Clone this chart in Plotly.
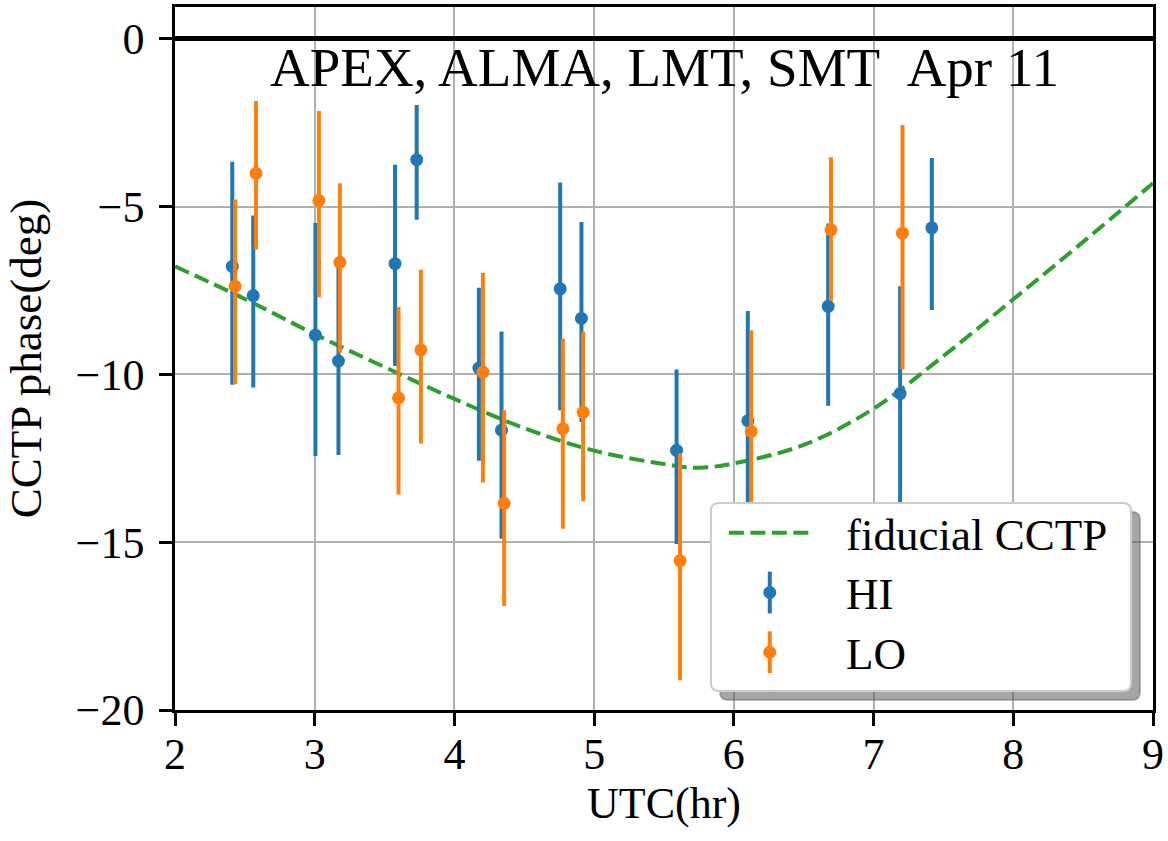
import plotly.graph_objects as go

# ---------------- data ----------------
hi_x = [2.41, 2.56, 3.005, 3.17, 3.575, 3.73, 4.175, 4.337, 4.757, 4.909, 5.59, 6.10, 6.675, 7.19, 7.417]
hi_y = [-6.78, -7.65, -8.83, -9.60, -6.70, -3.60, -9.81, -11.66, -7.45, -8.33, -12.26, -11.38, -7.97, -10.57, -5.63]
hi_err_up = [3.12, 2.39, 3.34, 2.82, 2.95, 1.63, 2.39, 2.94, 3.17, 2.87, 2.41, 3.27, 2.47, 3.20, 2.08]
hi_err_down = [3.53, 2.74, 3.60, 2.80, 3.05, 1.79, 2.76, 3.24, 3.62, 3.09, 2.79, 3.60, 2.96, 3.60, 2.45]

lo_x = [2.43, 2.58, 3.03, 3.18, 3.60, 3.76, 4.204, 4.356, 4.776, 4.921, 5.615, 6.124, 6.695, 7.207]
lo_y = [-7.37, -4.01, -4.82, -6.66, -10.70, -9.27, -9.93, -13.84, -11.62, -11.13, -15.55, -11.70, -5.69, -5.79]
lo_err_up = [2.58, 2.16, 2.67, 2.36, 2.71, 2.39, 2.95, 2.77, 2.69, 2.41, 3.20, 3.02, 2.16, 3.22]
lo_err_down = [2.92, 2.27, 2.88, 2.69, 2.88, 2.79, 3.29, 3.06, 2.98, 2.65, 3.56, 3.40, 2.12, 4.06]

fid_x = [2.0, 2.5, 3.0, 3.5, 4.0, 4.5, 5.0, 5.5, 5.75, 6.0, 6.5, 7.0, 7.5, 8.0, 8.5, 9.0]
fid_y = [-6.78, -7.75, -8.80, -9.78, -10.73, -11.60, -12.27, -12.67, -12.78, -12.65, -12.10, -11.02, -9.45, -7.76, -6.05, -4.30]

x_ticks = [2, 3, 4, 5, 6, 7, 8, 9]
y_ticks = [-20, -15, -10, -5, 0]

title_text = "APEX, ALMA, LMT, SMT \u00a0Apr 11"
legend_labels = ["fiducial CCTP", "HI", "LO"]

# ---------------- style ----------------
BLUE = "#1f77b4"
ORANGE = "#ff7f0e"
GREEN = "#2ca02c"
FONT = "Liberation Serif"
W, H = 1168, 841
ML, MR, MT, MB = 175, 13, 4, 131
PW, PH = W - ML - MR, H - MT - MB


def px(xp):
    return (xp - ML) / PW


def py(yp):
    return (H - MB - yp) / PH


fig = go.Figure()

fig.add_trace(go.Scatter(
    x=fid_x, y=fid_y, mode="lines",
    line=dict(color=GREEN, width=4, dash="15px,6.5px", shape="spline", smoothing=1.0),
    showlegend=False, hoverinfo="skip"))

fig.add_trace(go.Scatter(
    x=hi_x, y=hi_y, mode="markers",
    marker=dict(color=BLUE, size=13, line=dict(width=0)),
    error_y=dict(type="data", symmetric=False, array=hi_err_up, arrayminus=hi_err_down,
                 thickness=4, width=0, color=BLUE),
    showlegend=False))

fig.add_trace(go.Scatter(
    x=lo_x, y=lo_y, mode="markers",
    marker=dict(color=ORANGE, size=13, line=dict(width=0)),
    error_y=dict(type="data", symmetric=False, array=lo_err_up, arrayminus=lo_err_down,
                 thickness=4, width=0, color=ORANGE),
    showlegend=False))

# ---------------- legend (drawn manually, matplotlib-style) ----------------
shapes = []


def rounded_rect(x0, y0, x1, y1, r):
    rx, ry = r / PW, r / PH
    X0, X1 = px(x0), px(x1)
    Yt, Yb = py(y0), py(y1)
    return (f"M {X0+rx},{Yt} L {X1-rx},{Yt} Q {X1},{Yt} {X1},{Yt-ry} "
            f"L {X1},{Yb+ry} Q {X1},{Yb} {X1-rx},{Yb} L {X0+rx},{Yb} "
            f"Q {X0},{Yb} {X0},{Yb+ry} L {X0},{Yt-ry} Q {X0},{Yt} {X0+rx},{Yt} Z")


bx0, by0, bx1, by1 = 712, 502, 1133, 691
shapes.append(dict(type="path", xref="paper", yref="paper", layer="above",
                   path=rounded_rect(bx0 + 9, by0 + 9, bx1 + 9, by1 + 9, 8),
                   fillcolor="rgba(77,77,77,0.5)", line=dict(color="rgba(77,77,77,0.35)", width=2)))
shapes.append(dict(type="path", xref="paper", yref="paper", layer="above",
                   path=rounded_rect(bx0, by0, bx1, by1, 8),
                   fillcolor="white", line=dict(color="#cccccc", width=2)))
shapes.append(dict(type="line", xref="paper", yref="paper", layer="above",
                   x0=px(730), x1=px(813), y0=py(532), y1=py(532),
                   line=dict(color=GREEN, width=4, dash="15px,6.5px")))
for cy, col in [(592, BLUE), (652, ORANGE)]:
    shapes.append(dict(type="line", xref="paper", yref="paper", layer="above",
                       x0=px(771), x1=px(771), y0=py(cy - 21), y1=py(cy + 21),
                       line=dict(color=col, width=4)))
    shapes.append(dict(type="circle", xref="paper", yref="paper", layer="above",
                       xsizemode="pixel", ysizemode="pixel",
                       xanchor=px(771), yanchor=py(cy),
                       x0=-6.5, x1=6.5, y0=-6.5, y1=6.5,
                       fillcolor=col, line=dict(width=0)))

annotations = []
for lab, cy in zip(legend_labels, [531, 591, 651]):
    annotations.append(dict(text=lab, xref="paper", yref="paper", x=px(845), y=py(cy + 3),
                            xanchor="left", yanchor="middle", showarrow=False,
                            font=dict(family=FONT, size=45, color="black")))

annotations.append(dict(text=title_text, xref="paper", yref="paper", x=0.5, y=py(65),
                        xanchor="center", yanchor="middle", showarrow=False,
                        font=dict(family=FONT, size=55, color="black")))

fig.update_layout(
    width=W, height=H,
    margin=dict(l=ML, r=MR, t=MT, b=MB),
    paper_bgcolor="white", plot_bgcolor="white",
    shapes=shapes, annotations=annotations,
    font=dict(family=FONT, size=44, color="black"),
    showlegend=False,
)

fig.update_xaxes(
    range=[2, 9], tickvals=x_ticks, ticktext=[str(v) for v in x_ticks],
    showgrid=True, gridcolor="#b0b0b0", gridwidth=2,
    showline=True, linecolor="black", linewidth=2.5, mirror=True,
    ticks="outside", ticklen=13, tickwidth=2.5, tickcolor="black",
    tickfont=dict(family=FONT, size=44), zeroline=False,
    ticklabelstandoff=-10,
    title=dict(text="UTC(hr)", font=dict(family=FONT, size=44), standoff=2),
)
fig.update_yaxes(
    range=[-20, 0.95], tickvals=y_ticks,
    showgrid=True, gridcolor="#b0b0b0", gridwidth=2,
    showline=True, linecolor="black", linewidth=2.5, mirror=True,
    ticks="outside", ticklen=13, tickwidth=2.5, tickcolor="black",
    tickfont=dict(family=FONT, size=44),
    ticklabelstandoff=6,
    zeroline=True, zerolinecolor="black", zerolinewidth=4.5,
    title=dict(text="CCTP phase(deg)", font=dict(family=FONT, size=45), standoff=20),
)

fig.write_html("out.html")
